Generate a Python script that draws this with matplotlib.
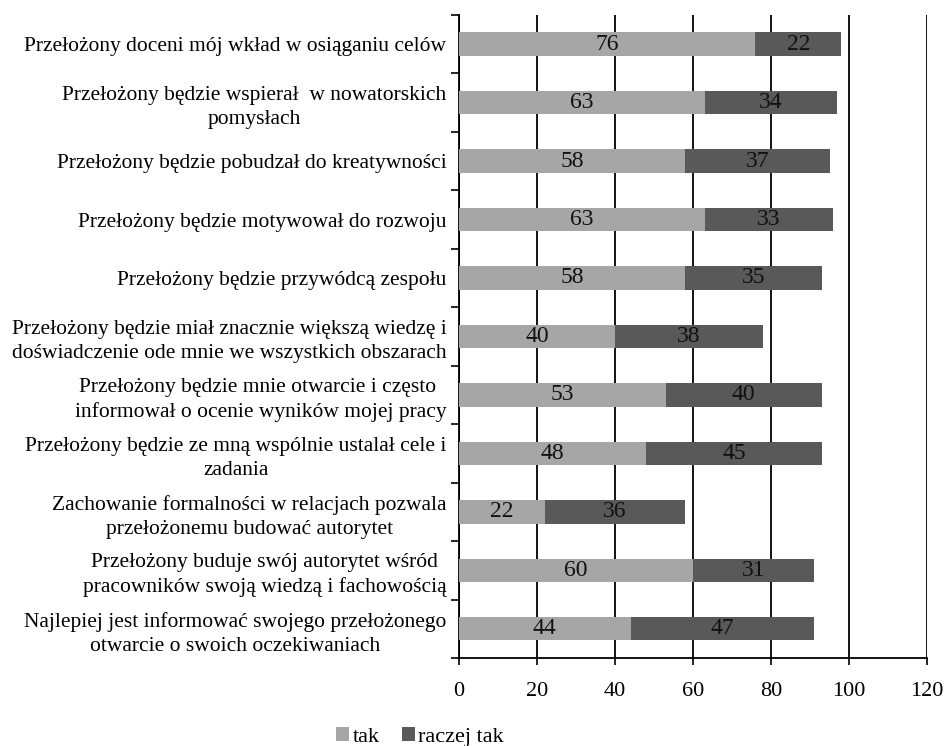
import matplotlib.pyplot as plt
import numpy as np

plt.rcParams['font.family'] = ['Liberation Serif', 'DejaVu Serif']

categories = [
    "Przełożony doceni mój wkład w osiąganiu celów",
    "Przełożony będzie wspierał  w nowatorskich\npomysłach",
    "Przełożony będzie pobudzał do kreatywności",
    "Przełożony będzie motywował do rozwoju",
    "Przełożony będzie przywódcą zespołu",
    "Przełożony będzie miał znacznie większą wiedzę i\ndoświadczenie ode mnie we wszystkich obszarach",
    "Przełożony będzie mnie otwarcie i często \ninformował o ocenie wyników mojej pracy",
    "Przełożony będzie ze mną wspólnie ustalał cele i\nzadania",
    "Zachowanie formalności w relacjach pozwala\nprzełożonemu budować autorytet",
    "Przełożony buduje swój autorytet wśród\npracowników swoją wiedzą i fachowością",
    "Najlepiej jest informować swojego przełożonego\notwarcie o swoich oczekiwaniach",
]
tak = [76, 63, 58, 63, 58, 40, 53, 48, 22, 60, 44]
raczej_tak = [22, 34, 37, 33, 35, 38, 40, 45, 36, 31, 47]

fig = plt.figure(figsize=(9.48, 7.46), dpi=100)
ax = fig.add_axes([0.484, 0.118, 0.494, 0.862])

y = np.arange(len(categories))[::-1]
b1 = ax.barh(y, tak, height=0.4, color='#a6a6a6', label='tak', zorder=3)
b2 = ax.barh(y, raczej_tak, left=tak, height=0.4, color='#595959',
             label='raczej tak', zorder=3)
ax.bar_label(b1, label_type='center', fontsize=17, color='#111111')
ax.bar_label(b2, label_type='center', fontsize=17, color='#111111')

ax.set_xlim(0, 120)
ax.set_ylim(-0.5, len(categories) - 0.5)
ax.set_xticks(range(0, 121, 20))
ax.tick_params(axis='x', labelsize=16, length=5, width=1.2, direction='out',
               pad=12)
ax.grid(axis='x', color='black', linewidth=1.3, zorder=0)

# category labels on minor ticks, tick marks between bars
ax.set_yticks(np.arange(-0.5, len(categories), 1))
ax.set_yticklabels([])
ax.set_yticks(y, minor=True)
ax.set_yticklabels(categories, minor=True, fontsize=15.5, ha='right',
                   multialignment='center', linespacing=1.35)
ax.tick_params(axis='y', which='major', length=6, width=1.2, direction='out')
ax.tick_params(axis='y', which='minor', length=0, pad=9)

for s in ['top', 'right']:
    ax.spines[s].set_visible(False)
for s in ['left', 'bottom']:
    ax.spines[s].set_linewidth(1.3)

fig.legend(handles=[b1, b2], loc='lower center', ncol=2, frameon=False,
           fontsize=16, handlelength=0.6, handleheight=0.6,
           handletextpad=0.15, columnspacing=1.0,
           bbox_to_anchor=(0.443, -0.028))

fig.savefig('out.png', dpi=100)
